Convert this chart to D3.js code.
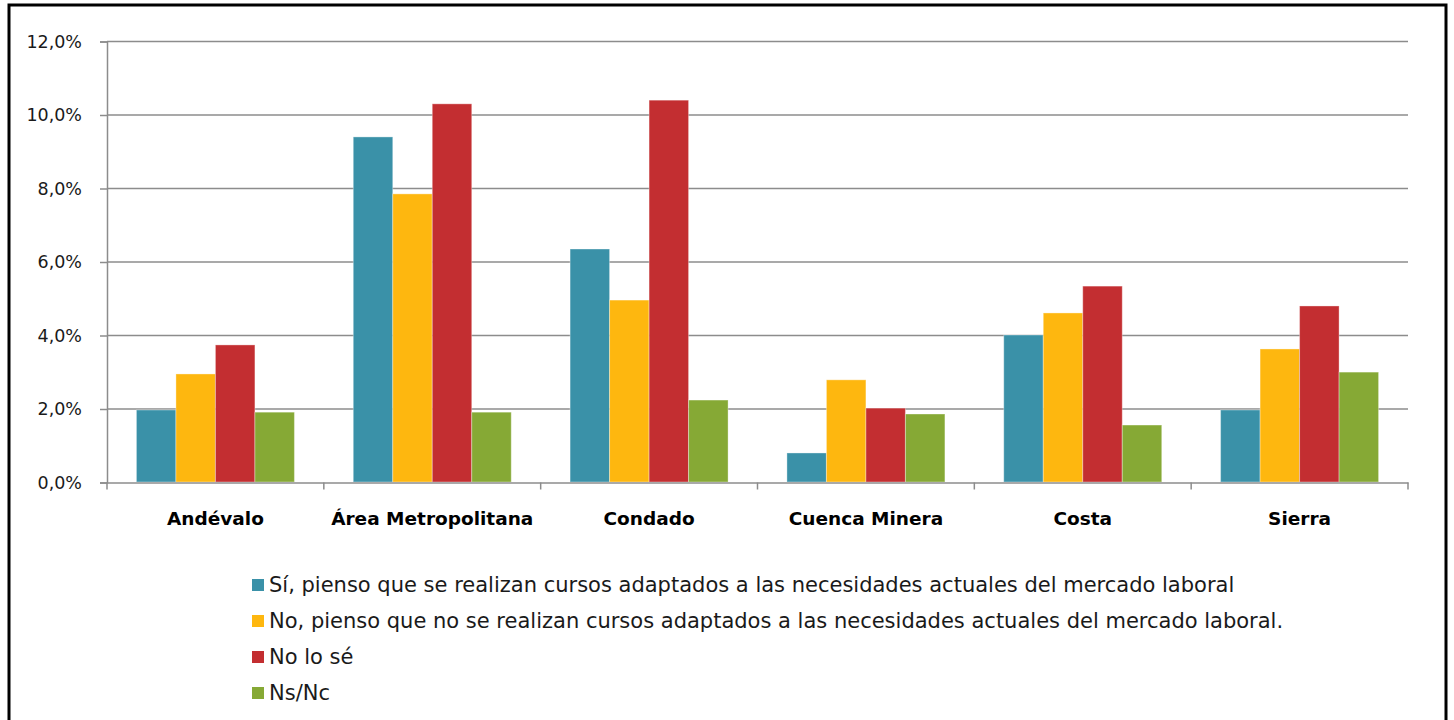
<!DOCTYPE html>
<html><head><meta charset="utf-8">
<script src="https://cdn.jsdelivr.net/npm/d3@7"></script>
<style>
html,body{margin:0;padding:0;background:#fff;}
svg{display:block;}
</style></head>
<body>
<svg id="chart" width="1454" height="720"></svg>
<script>
const categories = ["Andévalo", "Área Metropolitana", "Condado", "Cuenca Minera", "Costa", "Sierra"];
const seriesNames = [
  "Sí, pienso que se realizan cursos adaptados a las necesidades actuales del mercado laboral",
  "No, pienso que no se realizan cursos adaptados a las necesidades actuales del mercado laboral.",
  "No lo sé",
  "Ns/Nc"
];
const siValues   = [1.96, 9.39, 6.34, 0.79, 4.00, 1.96];
const noValues   = [2.94, 7.84, 4.95, 2.78, 4.60, 3.62];
const nolseValues= [3.73, 10.29, 10.39, 2.01, 5.33, 4.79];
const nsncValues = [1.90, 1.90, 2.23, 1.85, 1.55, 2.99];
const yTicks = [0, 2, 4, 6, 8, 10, 12];
const colors = ["#3a91a8", "#feb70f", "#c32e31", "#86a935"];

const series = [siValues, noValues, nolseValues, nsncValues];
const svg = d3.select("#chart");
const font = "'DejaVu Sans', sans-serif";

// outer frame
svg.append("rect").attr("x", 9).attr("y", 5).attr("width", 1437).attr("height", 730)
  .attr("fill", "none").attr("stroke", "#000").attr("stroke-width", 3);

const pLeft = 107, pRight = 1408, pTop = 41, pBottom = 482;
const x = d3.scaleBand().domain(categories).range([pLeft, pRight]).paddingInner(0).paddingOuter(0);
const y = d3.scaleLinear().domain([0, 12]).range([pBottom, pTop]);
const xs = d3.scaleBand().domain(d3.range(4)).range([0, x.bandwidth()]).paddingOuter(0.745).paddingInner(0);

// gridlines
svg.append("g").selectAll("line").data(yTicks.filter(d => d > 0)).join("line")
  .attr("x1", pLeft).attr("x2", pRight).attr("y1", d => y(d) + 0.5).attr("y2", d => y(d) + 0.5)
  .attr("stroke", "#8c8c8c").attr("stroke-width", 1.5);

// bars
const g = svg.append("g");
categories.forEach((c, ci) => {
  series.forEach((vals, si) => {
    g.append("rect")
      .attr("x", x(c) + xs(si))
      .attr("y", y(vals[ci]))
      .attr("width", xs.bandwidth())
      .attr("height", y(0) - y(vals[ci]))
      .attr("fill", colors[si])
      .attr("stroke", "rgba(255,255,255,0.35)")
      .attr("stroke-width", 1);
  });
});

// y axis
const yAxis = d3.axisLeft(y).tickValues(yTicks).tickSize(7).tickPadding(18)
  .tickFormat(d => d3.format(".1f")(d).replace(".", ",") + "%");
const ya = svg.append("g").attr("transform", `translate(${pLeft},0.5)`).call(yAxis);
ya.select(".domain").attr("stroke", "#8c8c8c").attr("stroke-width", 1.5);
ya.selectAll(".tick line").attr("stroke", "#8c8c8c").attr("stroke-width", 1.5);
ya.selectAll(".tick text").attr("font-family", font).attr("font-size", 17.5).attr("fill", "#1a1a1a");

// x axis
const xAxis = d3.axisBottom(x).tickSize(0).tickPadding(29);
const xa = svg.append("g").attr("transform", `translate(0,${pBottom + 0.5})`).call(xAxis);
xa.select(".domain").attr("stroke", "#8c8c8c").attr("stroke-width", 1.5);
xa.selectAll(".tick text").attr("font-family", font).attr("font-weight", "bold")
  .attr("font-size", 18.5).attr("fill", "#000");
// category separator ticks
xa.append("g").selectAll("line").data(d3.range(categories.length + 1)).join("line")
  .attr("x1", i => pLeft + i * x.bandwidth()).attr("x2", i => pLeft + i * x.bandwidth())
  .attr("y1", 0).attr("y2", 7).attr("stroke", "#8c8c8c").attr("stroke-width", 1.5);

// legend
const lg = svg.append("g").attr("transform", "translate(252,585)");
seriesNames.forEach((name, i) => {
  const row = lg.append("g").attr("transform", `translate(0,${i * 36})`);
  row.append("rect").attr("x", 0).attr("y", -6).attr("width", 12).attr("height", 12).attr("fill", colors[i]);
  row.append("text").attr("x", 17).attr("y", 0).attr("dy", "0.35em")
    .attr("font-family", font).attr("font-size", 21).attr("fill", "#1a1a1a").text(name);
});
</script>
</body></html>
